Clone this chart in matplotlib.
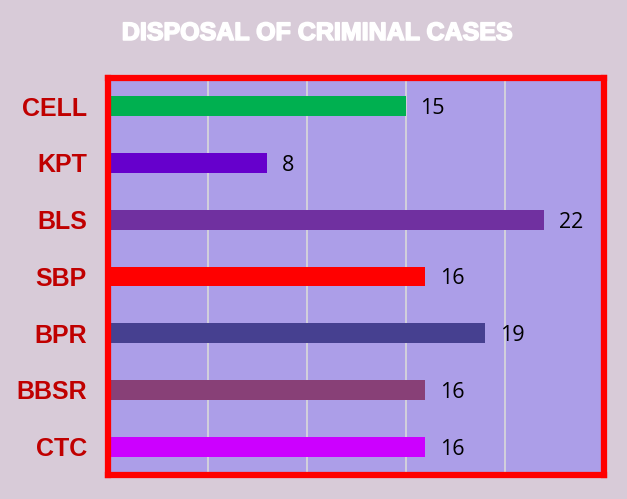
import matplotlib.pyplot as plt
import matplotlib.patheffects as pe

# chart data, top to bottom as drawn
districts = ["CELL", "KPT", "BLS", "SBP", "BPR", "BBSR", "CTC"]
disposed = [15, 8, 22, 16, 19, 16, 16]
bar_colors = ["#00B050", "#6600CC", "#7030A0", "#FF0000", "#464090", "#884077", "#CC00FF"]

fig = plt.figure(figsize=(6.27, 4.99), dpi=100, facecolor="#D8CBD8")
ax = fig.add_axes([0.173, 0.048, 0.790, 0.796], facecolor="#AC9EE8")

ypos = range(len(districts))
ax.barh(ypos, disposed, height=0.35, color=bar_colors, zorder=3)
for y, v in zip(ypos, disposed):
    ax.text(v + 0.75, y, str(v), va="center_baseline", ha="left", fontsize=15.5,
            family="Open Sans", color="black", zorder=4)

ax.set_xlim(0, 25)
ax.set_ylim(len(districts) - 0.5, -0.5)
ax.set_xticks([5, 10, 15, 20])
ax.set_xticklabels([])
ax.grid(axis="x", color="#D9D9D9", linewidth=1.2, zorder=1)
ax.tick_params(axis="both", length=0)
ax.tick_params(axis="y", pad=15.5)
ax.set_yticks(list(ypos))
ax.set_yticklabels(districts, fontsize=18, fontweight="bold",
                   family="Liberation Sans", color="#C00000")

for side in ax.spines.values():
    side.set_color("#FF0000")
    side.set_linewidth(4.5)
    side.set_zorder(5)

fig.text(0.505, 0.934, "DISPOSAL OF CRIMINAL CASES", ha="center", va="center",
         fontsize=18, fontweight="bold", family="Liberation Sans", color="white",
         path_effects=[pe.withStroke(linewidth=1.2, foreground="white")])

fig.savefig("out.png", dpi=100, facecolor=fig.get_facecolor())
